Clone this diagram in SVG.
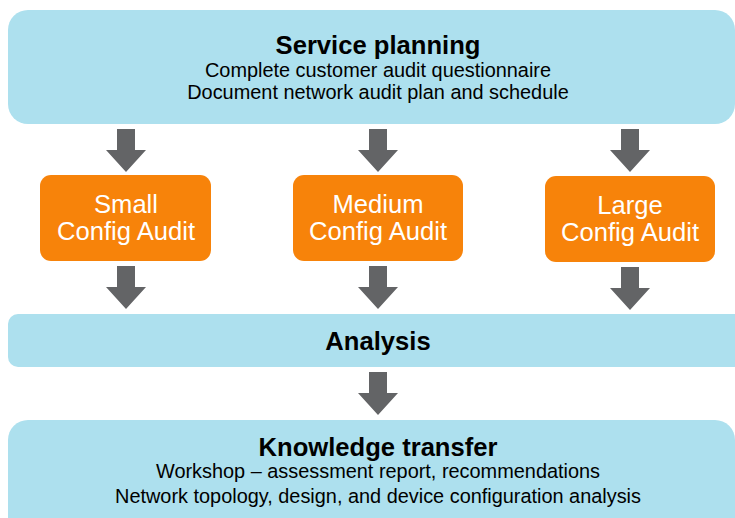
<svg xmlns="http://www.w3.org/2000/svg" width="735" height="518" viewBox="0 0 735 518">
<defs>
<style>
.blue{fill:#ADE0EE}
.orange{fill:#F7830A}
.arr{fill:#636466}
.title{font-family:"Liberation Sans",Arial,sans-serif;font-weight:bold;font-size:25.6px;fill:#000;text-anchor:middle}
.sub{font-family:"Liberation Sans",Arial,sans-serif;font-size:19.9px;fill:#000;text-anchor:middle}
.otext{font-family:"Liberation Sans",Arial,sans-serif;font-size:25.6px;fill:#fff;text-anchor:middle}
</style>
<path id="arrow" d="M-9,0 H9 V21 H20 L0,43 L-20,21 H-9 Z"/>
</defs>
<g id="service-planning">
<rect class="blue" x="8" y="10" width="727" height="114" rx="20"/>
<text class="title" x="378" y="54">Service planning</text>
<text class="sub" x="378" y="77">Complete customer audit questionnaire</text>
<text class="sub" x="378" y="99">Document network audit plan and schedule</text>
</g>
<g id="small">
<rect class="orange" x="40" y="175" width="171" height="86" rx="11"/>
<text class="otext" x="126" y="213">Small</text>
<text class="otext" x="126" y="240">Config Audit</text>
</g>
<g id="medium">
<rect class="orange" x="293" y="175" width="170" height="86" rx="11"/>
<text class="otext" x="378" y="213">Medium</text>
<text class="otext" x="378" y="240">Config Audit</text>
</g>
<g id="large">
<rect class="orange" x="545" y="176" width="170" height="86" rx="11"/>
<text class="otext" x="630" y="214">Large</text>
<text class="otext" x="630" y="241">Config Audit</text>
</g>
<g id="analysis">
<rect class="blue" x="8" y="314" width="740" height="53" rx="10"/>
<text class="title" x="378" y="350">Analysis</text>
</g>
<g id="knowledge-transfer">
<rect class="blue" x="8" y="420" width="727" height="120" rx="20"/>
<text class="title" x="378" y="456">Knowledge transfer</text>
<text class="sub" x="378" y="478">Workshop – assessment report, recommendations</text>
<text class="sub" x="378" y="503">Network topology, design, and device configuration analysis</text>
</g>
<g id="connectors" class="arr">
<use href="#arrow" x="126" y="129"/>
<use href="#arrow" x="378" y="129"/>
<use href="#arrow" x="630" y="129"/>
<use href="#arrow" x="126" y="266"/>
<use href="#arrow" x="378" y="266"/>
<use href="#arrow" x="630" y="267"/>
<use href="#arrow" x="378" y="372"/>
</g>
</svg>
